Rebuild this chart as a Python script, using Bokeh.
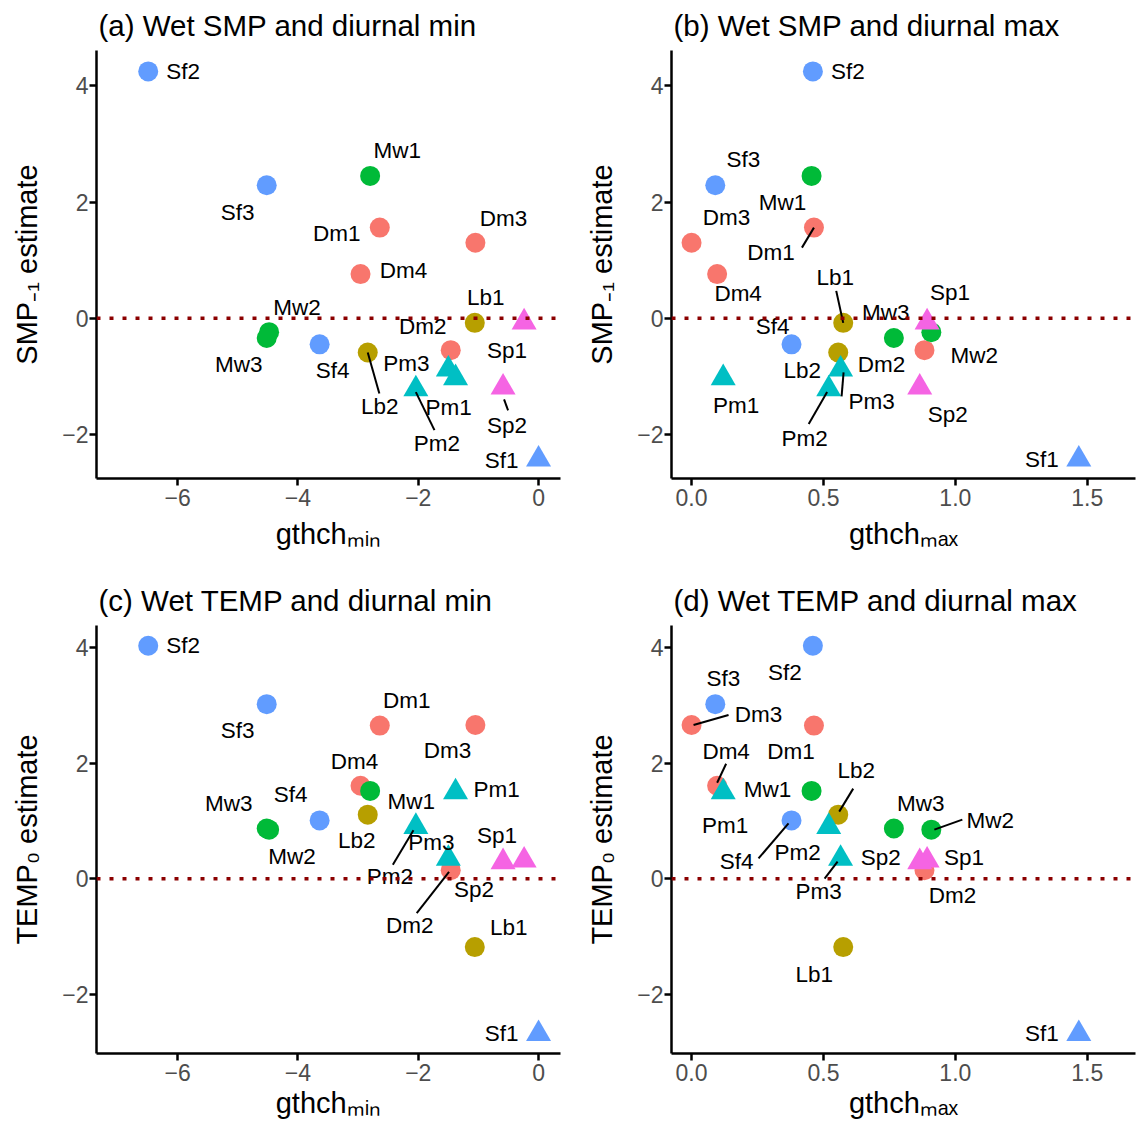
from bokeh.plotting import figure
from bokeh.models import ColumnDataSource, Span, Range1d, FixedTicker
from bokeh.layouts import gridplot
from bokeh.embed import file_html
from bokeh.resources import INLINE
from bokeh.core.properties import value

# ---------------- data ----------------
sites = ["Dm1", "Dm2", "Dm3", "Dm4", "Lb1", "Lb2", "Mw1", "Mw2", "Mw3",
         "Pm1", "Pm2", "Pm3", "Sf1", "Sf2", "Sf3", "Sf4", "Sp1", "Sp2"]
group = ["Dm", "Dm", "Dm", "Dm", "Lb", "Lb", "Mw", "Mw", "Mw",
         "Pm", "Pm", "Pm", "Sf", "Sf", "Sf", "Sf", "Sp", "Sp"]
shape = ["circle"] * 9 + ["triangle"] * 4 + ["circle"] * 3 + ["triangle"] * 2

gthch_min = [-2.64, -1.46, -1.05, -2.96, -1.06, -2.84, -2.80, -4.48, -4.52,
             -1.38, -2.04, -1.50, 0.00, -6.49, -4.52, -3.64, -0.24, -0.59]
gthch_max = [0.464, 0.883, 0.000, 0.097, 0.575, 0.556, 0.455, 0.909, 0.767,
             0.120, 0.520, 0.565, 1.468, 0.460, 0.090, 0.379, 0.893, 0.865]
smp_est = [1.56, -0.55, 1.30, 0.76, -0.08, -0.59, 2.45, -0.24, -0.34,
           -1.03, -1.22, -0.88, -2.43, 4.25, 2.29, -0.45, -0.07, -1.19]
temp_est = [2.65, 0.15, 2.66, 1.61, -1.18, 1.11, 1.52, 0.85, 0.87,
            1.50, 0.90, 0.35, -2.68, 4.03, 3.02, 1.01, 0.32, 0.29]

x_ticks_min = [-6, -4, -2, 0]
x_ticks_max = [0.0, 0.5, 1.0, 1.5]
y_ticks = [-2, 0, 2, 4]

titles = ["(a) Wet SMP and diurnal min", "(b) Wet SMP and diurnal max",
          "(c) Wet TEMP and diurnal min", "(d) Wet TEMP and diurnal max"]
xlab_min = "gthch\u2098\u1d62\u2099"
xlab_max = "gthch\u2098\u2090\u2093"
ylab_smp = "SMP\u208b\u2081 estimate"
ylab_temp = "TEMP\u2080 estimate"

# ---------------- styles ----------------
FONT = "Liberation Sans"
COLORS = {"Dm": "#F8766D", "Lb": "#B79F00", "Mw": "#00BA38",
          "Pm": "#00BFC4", "Sf": "#619CFF", "Sp": "#F564E3"}
SIZES = {"circle": 20, "triangle": 25}
FW, FH = 464, 428

# label placement offsets (pixels, y downwards) relative to each point
lab_a = {"Sf2": (35, 0), "Mw1": (27, -25), "Sf3": (-29, 27), "Dm1": (-43, 6),
         "Dm3": (28, -24), "Dm4": (43, -4), "Lb1": (11, -25), "Mw2": (28, -25),
         "Dm2": (-28, -24), "Sp1": (-17, 28), "Mw3": (-28, 27), "Sf4": (13, 26),
         "Pm3": (-42, -6), "Lb2": (12, 54), "Pm1": (-7, 29), "Pm2": (21, 54),
         "Sp2": (4, 38), "Sf1": (-37, 1)}
seg_a = {"Lb2": (0, 0, 11.6, 41), "Pm2": (0, 3, 18.6, 41), "Sp2": (1, 12, 5, 23)}

lab_b = {"Sf2": (35, 0), "Sf3": (28, -26), "Mw1": (-29, 27), "Dm3": (35, -25),
         "Dm1": (-43, 25), "Dm4": (21, 19), "Lb1": (-8, -45), "Sf4": (-19, -18),
         "Mw3": (-8, -25), "Sp1": (23, -30), "Mw2": (43, 23), "Lb2": (-36, 18),
         "Dm2": (-43, 14), "Pm3": (31, 32), "Pm1": (13, 27), "Pm2": (-24, 49),
         "Sp2": (28, 27), "Sf1": (-37, 0)}
seg_b = {"Dm1": (0, 0, -12, 20), "Lb1": (0, 0, -7, -32),
         "Pm3": (3, 3, 1, 27), "Pm2": (-1.6, 3, -20, 35)}

lab_c = {"Sf2": (35, 0), "Sf3": (-29, 26), "Dm1": (27, -25), "Dm3": (-28, 26),
         "Dm4": (-6, -24), "Mw1": (41, 11), "Pm1": (41, -3), "Sf4": (-29, -26),
         "Mw3": (-38, -25), "Mw2": (23, 27), "Lb2": (-11, 26), "Pm2": (-26, 50),
         "Pm3": (-17, -16), "Dm2": (-41, 55), "Sp1": (-27, -25), "Sp2": (-29, 27),
         "Lb1": (34, -20), "Sf1": (-37, 0)}
seg_c = {"Pm2": (-2.4, 3.4, -23, 38), "Dm2": (-1.7, 1.7, -34, 43)}

lab_d = {"Sf2": (-28, 27), "Sf3": (8, -26), "Dm3": (67, -10), "Dm1": (-23, 26),
         "Dm4": (9, -34), "Pm1": (2, 33), "Mw1": (-44, -1), "Lb2": (18, -44),
         "Sf4": (-55, 41), "Pm2": (-31, 26), "Mw3": (27, -25), "Mw2": (59, -9),
         "Pm3": (-22, 33), "Sp2": (-39, -5), "Sp1": (37, -3), "Dm2": (28, 25),
         "Lb1": (-29, 27), "Sf1": (-37, 0)}
seg_d = {"Dm3": (2, 0, 37, -10), "Dm4": (0, -3, 9, -22), "Lb2": (1, -3, 15, -26),
         "Sf4": (-3, 3, -33, 38), "Mw2": (3, 0, 31, -10), "Pm3": (-3, 3, -16, 20)}


def make_panel(title, xv, yv, xr, yr, xticks, xfmt, xlab, ylab,
               labs, segs, width, height, mbl, mbr, mbt, mbb, xlab_standoff):
    p = figure(width=width, height=height, x_range=Range1d(*xr), y_range=Range1d(*yr),
               output_backend="svg", toolbar_location=None, title=title,
               min_border_left=mbl, min_border_right=mbr,
               min_border_top=mbt, min_border_bottom=mbb)
    p.outline_line_color = None
    p.xgrid.visible = False
    p.ygrid.visible = False
    p.background_fill_color = "white"
    p.border_fill_color = "white"

    p.title.text_font = FONT
    p.title.text_font_size = "29.5px"
    p.title.text_font_style = "normal"
    p.title.text_color = "black"
    p.title.align = "left"
    p.title.vertical_align = "top"
    p.title.offset = 2
    p.title.standoff = 13

    ppx = FW / (xr[1] - xr[0])
    ppy = FH / (yr[1] - yr[0])

    p.add_layout(Span(location=0, dimension="width", line_color="#8B0000",
                      line_width=3.5, line_dash="4 9"))

    src = ColumnDataSource(dict(
        x=xv, y=yv, name=sites, marker=shape,
        size=[SIZES[m] for m in shape],
        color=[COLORS[g] for g in group]))
    p.scatter(x="x", y="y", marker="marker", size="size", fill_color="color",
              line_color=None, source=src)

    sx0, sy0, sx1, sy1 = [], [], [], []
    for s, x, y in zip(sites, xv, yv):
        if s in segs:
            a, b, c, d = segs[s]
            sx0.append(x + a / ppx); sy0.append(y - b / ppy)
            sx1.append(x + c / ppx); sy1.append(y - d / ppy)
    p.segment(x0=sx0, y0=sy0, x1=sx1, y1=sy1, line_color="black", line_width=2)

    lx = [x + labs[s][0] / ppx for s, x in zip(sites, xv)]
    ly = [y - labs[s][1] / ppy for s, y in zip(sites, yv)]
    p.text(x=lx, y=ly, text=sites, text_font=value(FONT), text_font_size="22.5px",
           text_align="center", text_baseline="middle", text_color="black")

    # axes
    for ax in (p.xaxis[0], p.yaxis[0]):
        ax.axis_line_width = 2.5
        ax.axis_line_color = "black"
        ax.major_tick_line_width = 2.5
        ax.major_tick_line_color = "black"
        ax.major_tick_out = 7
        ax.major_tick_in = 0
        ax.minor_tick_line_color = None
        ax.major_label_text_font = FONT
        ax.major_label_text_font_size = "23px"
        ax.major_label_text_color = "#4D4D4D"
        ax.axis_label_text_font = FONT
        ax.axis_label_text_font_size = "29px"
        ax.axis_label_text_font_style = "normal"
        ax.axis_label_text_color = "black"
    p.xaxis[0].ticker = FixedTicker(ticks=xticks)
    p.yaxis[0].ticker = FixedTicker(ticks=y_ticks)
    p.xaxis[0].major_label_overrides = {t: xfmt(t) for t in xticks}
    p.yaxis[0].major_label_overrides = {t: ("\u2212" + str(abs(t)) if t < 0 else str(t)) for t in y_ticks}
    p.xaxis[0].major_label_standoff = 3
    p.yaxis[0].major_label_standoff = 1
    p.xaxis[0].axis_label = xlab
    p.yaxis[0].axis_label = ylab
    p.xaxis[0].axis_label_standoff = xlab_standoff
    p.yaxis[0].axis_label_standoff = 16
    return p


fmt_min = lambda t: ("\u2212" + str(abs(int(t)))) if t < 0 else str(int(t))
fmt_max = lambda t: f"{t:.1f}"

XR_MIN = (-7.35, 0.365)
XR_MAX = (-0.076, 1.683)
YR_TOP = (-2.76, 4.61)
YR_BOT = (-3.02, 4.38)

pa = make_panel(titles[0], gthch_min, smp_est, XR_MIN, YR_TOP,
                x_ticks_min, fmt_min, xlab_min, ylab_smp, lab_a, seg_a,
                571, 575, 96, 11, 50, 97, 9)
pb = make_panel(titles[1], gthch_max, smp_est, XR_MAX, YR_TOP,
                x_ticks_max, fmt_max, xlab_max, ylab_smp, lab_b, seg_b,
                571, 575, 100, 7, 50, 97, 9)
pc = make_panel(titles[2], gthch_min, temp_est, XR_MIN, YR_BOT,
                x_ticks_min, fmt_min, xlab_min, ylab_temp, lab_c, seg_c,
                571, 551, 96, 11, 50, 73, 3)
pd = make_panel(titles[3], gthch_max, temp_est, XR_MAX, YR_BOT,
                x_ticks_max, fmt_max, xlab_max, ylab_temp, lab_d, seg_d,
                571, 551, 100, 7, 50, 73, 3)

grid = gridplot([[pa, pb], [pc, pd]], toolbar_location=None)

with open("out.html", "w") as f:
    f.write(file_html(grid, INLINE))
